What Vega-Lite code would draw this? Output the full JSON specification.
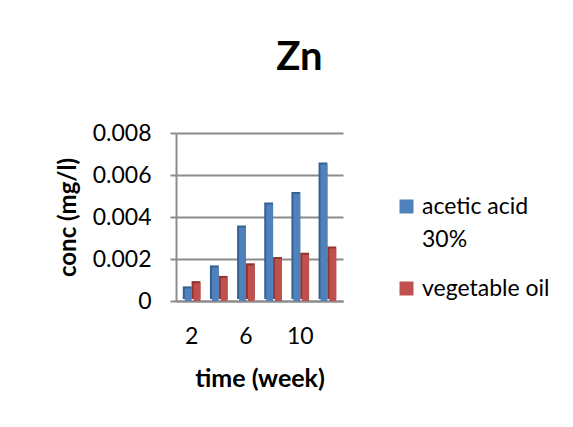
{
  "$schema": "https://vega.github.io/schema/vega-lite/v6.json",
  "width": 167,
  "height": 168,
  "autosize": "none",
  "padding": {"left": 176, "top": 133, "right": 230, "bottom": 126},
  "background": "white",
  "title": {"text": "Zn", "font": "Lato", "fontSize": 40, "fontWeight": "bold", "color": "#000000", "dx": 40, "offset": 44, "anchor": "middle"},
  "data": {
    "values": [
      {"week": 2, "series": "acetic acid 30%", "conc": 0.0006},
      {"week": 2, "series": "vegetable oil", "conc": 0.00085},
      {"week": 4, "series": "acetic acid 30%", "conc": 0.0016},
      {"week": 4, "series": "vegetable oil", "conc": 0.0011},
      {"week": 6, "series": "acetic acid 30%", "conc": 0.0035},
      {"week": 6, "series": "vegetable oil", "conc": 0.0017},
      {"week": 8, "series": "acetic acid 30%", "conc": 0.0046},
      {"week": 8, "series": "vegetable oil", "conc": 0.002},
      {"week": 10, "series": "acetic acid 30%", "conc": 0.0051},
      {"week": 10, "series": "vegetable oil", "conc": 0.0022},
      {"week": 12, "series": "acetic acid 30%", "conc": 0.0065},
      {"week": 12, "series": "vegetable oil", "conc": 0.0025}
    ]
  },
  "encoding": {
    "x": {
      "field": "week", "type": "ordinal",
      "scale": {"paddingInner": 0.35, "paddingOuter": 0.25},
      "axis": {
        "title": "time (week)", "labelAngle": 0,
        "labelExpr": "datum.value % 4 == 2 ? datum.label : ''",
        "labelFont": "Lato", "labelFontSize": 23, "labelColor": "#000000", "labelPadding": 24,
        "ticks": false, "domain": true, "domainColor": "#8c8c8c", "domainWidth": 2,
        "titleFont": "Lato", "titleFontSize": 25, "titleFontWeight": "bold", "titleColor": "#000000", "titlePadding": 18
      }
    },
    "xOffset": {"field": "series", "type": "nominal", "sort": ["acetic acid 30%", "vegetable oil"]},
    "y": {
      "field": "conc", "type": "quantitative",
      "scale": {"domain": [0, 0.008], "nice": false},
      "axis": {
        "title": "conc (mg/l)", "values": [0, 0.002, 0.004, 0.006, 0.008], "format": ".3~f",
        "labelFont": "Lato", "labelFontSize": 23, "labelColor": "#000000", "labelPadding": 19,
        "tickSize": 6, "tickColor": "#8c8c8c", "tickWidth": 2,
        "domainColor": "#8c8c8c", "domainWidth": 2,
        "grid": true, "gridColor": "#8c8c8c", "gridWidth": 2,
        "titleFont": "Lato", "titleFontSize": 24, "titleFontWeight": "bold", "titleColor": "#000000", "titlePadding": 12
      }
    }
  },
  "layer": [
    {
      "mark": {"type": "bar", "xOffset": 2.5, "yOffset": -2},
      "encoding": {
        "fill": {"condition": {"test": "datum.series == 'acetic acid 30%'", "value": "#36608f"}, "value": "#8e3532"}
      }
    },
    {
      "mark": {"type": "bar", "width": {"band": 0.78}},
      "encoding": {
        "color": {
          "field": "series", "type": "nominal",
          "scale": {"domain": ["acetic acid 30%", "vegetable oil"], "range": ["#4f81bd", "#c0504d"]},
          "legend": {
            "title": null, "orient": "none", "legendX": 219, "legendY": 62,
            "symbolType": "square", "symbolSize": 196, "symbolStrokeWidth": 0,
            "labelFont": "Lato", "labelFontSize": 23, "labelColor": "#000000", "labelOffset": 4,
            "labelExpr": "datum.value == 'acetic acid 30%' ? ['acetic acid', '30%'] : datum.label",
            "rowPadding": 25
          }
        }
      }
    }
  ],
  "config": {"view": {"stroke": null}, "style": {"guide-label": {"lineHeight": 33}}}
}
